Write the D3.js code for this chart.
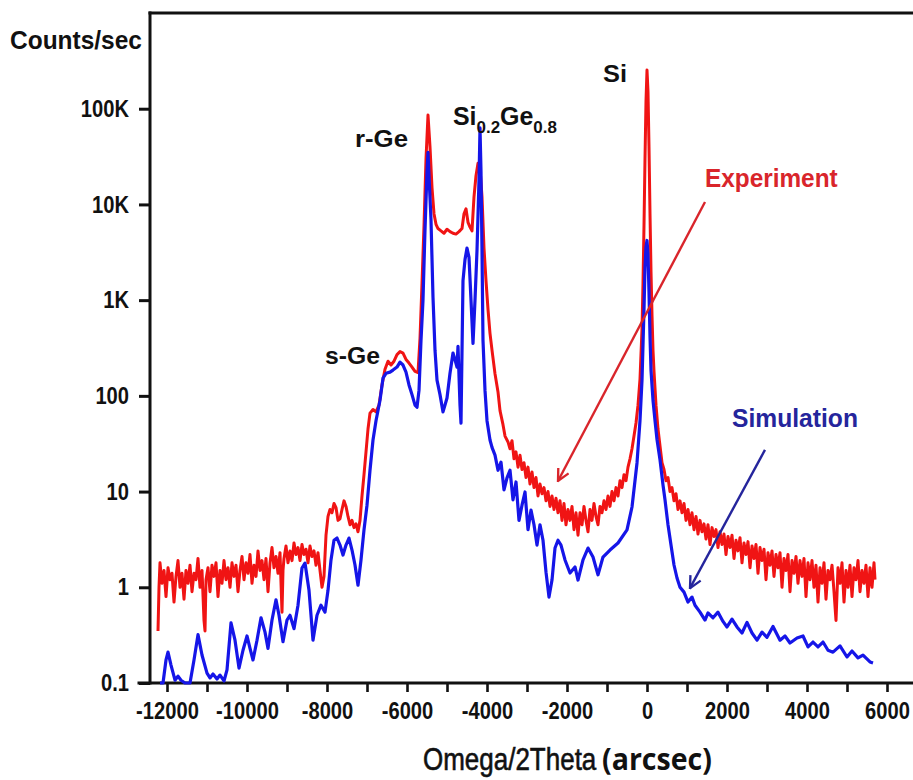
<!DOCTYPE html>
<html>
<head>
<meta charset="utf-8">
<script src="https://cdn.jsdelivr.net/npm/d3@7"></script>
<style>
  body { margin: 0; background: #fff; }
  svg { display: block; }
</style>
</head>
<body>
<svg id="chart" width="913" height="780"></svg>
<script>
// Omega/2Theta scan, counts per second: [angle (arcsec), counts]
const experiment = [
  [-12225,0.35],[-12200,1.0],[-12175,1.8],[-12125,1.1],[-12075,1.5],[-12025,0.8],[-11975,1.6],[-11925,1.2],
  [-11875,1.4],[-11825,0.7],[-11775,1.3],[-11725,1.9],[-11675,1.0],[-11625,1.4],[-11575,0.75],[-11525,1.5],
  [-11475,1.1],[-11425,1.7],[-11375,0.9],[-11325,1.4],[-11275,1.2],[-11225,2.0],[-11175,1.0],[-11125,1.5],
  [-11075,0.45],[-11050,0.35],[-11025,1.2],[-10975,1.6],[-10925,0.9],[-10875,1.7],[-10825,1.3],[-10775,1.8],
  [-10725,0.8],[-10675,1.5],[-10625,1.1],[-10575,1.9],[-10525,1.2],[-10475,1.6],[-10425,1.0],[-10375,1.8],
  [-10325,1.3],[-10275,1.7],[-10225,0.9],[-10175,1.5],[-10125,2.1],[-10075,1.2],[-10025,1.8],[-9975,1.4],
  [-9925,2.2],[-9875,1.1],[-9825,1.7],[-9775,1.3],[-9725,2.4],[-9675,1.5],[-9625,1.9],[-9575,1.2],
  [-9525,2.0],[-9475,0.9],[-9425,1.8],[-9375,2.6],[-9325,1.6],[-9275,2.1],[-9225,1.4],[-9175,2.3],
  [-9125,0.55],[-9100,1.5],[-9075,2.0],[-9025,2.7],[-8975,1.8],[-8925,2.4],[-8875,1.9],[-8825,2.9],
  [-8775,2.2],[-8725,2.6],[-8675,1.9],[-8625,2.8],[-8575,2.2],[-8525,2.5],[-8475,1.8],[-8425,2.7],
  [-8375,2.1],[-8325,2.4],[-8275,1.7],[-8225,2.3],[-8175,1.5],[-8125,1.0],[-8075,1.3],[-8025,3.5],
  [-7975,5.5],[-7925,6.5],[-7875,6.0],[-7825,7.5],[-7775,6.8],[-7725,5.0],[-7675,5.2],[-7625,6.5],
  [-7575,8.0],[-7525,7.0],[-7475,5.5],[-7425,4.5],[-7375,5.0],[-7325,4.2],[-7275,4.6],[-7225,3.8],
  [-7175,5.0],[-7125,9.0],[-7075,15],[-7025,26],[-6975,45],[-6925,66],[-6850,72],[-6775,68],
  [-6700,80],[-6625,130],[-6550,190],[-6475,230],[-6400,210],[-6325,230],[-6250,270],[-6175,290],
  [-6100,280],[-6025,240],[-5950,220],[-5875,200],[-5800,180],[-5725,175],[-5675,400],[-5625,1500],
  [-5575,6000],[-5525,30000],[-5475,86000],[-5425,40000],[-5375,15000],[-5325,8000],[-5275,6200],[-5225,5600],
  [-5150,5300],[-5075,5000],[-5000,5500],[-4925,5200],[-4850,5000],[-4775,4900],[-4700,5200],[-4625,5600],
  [-4575,8000],[-4525,9000],[-4475,6500],[-4425,5800],[-4375,5300],[-4325,12000],[-4275,20000],[-4225,27000],
  [-4175,24000],[-4125,12000],[-4075,3500],[-4025,1600],[-3975,800],[-3925,450],[-3875,300],[-3800,170],
  [-3725,110],[-3675,70],[-3600,50],[-3550,38],[-3475,33],[-3425,28],[-3375,34],[-3325,22],
  [-3275,26],[-3225,18],[-3175,24],[-3125,17],[-3075,20],[-3025,14],[-2975,18],[-2925,12],
  [-2875,16],[-2825,11],[-2775,14],[-2725,9],[-2675,12],[-2625,9.5],[-2575,11],[-2525,8],
  [-2475,10],[-2425,7],[-2375,9],[-2325,6.5],[-2275,8.5],[-2225,6],[-2175,8],[-2125,5],
  [-2075,7.5],[-2025,4.5],[-1975,6.5],[-1925,5],[-1875,7],[-1825,4],[-1775,6],[-1725,3.5],
  [-1675,6],[-1625,4.5],[-1575,7],[-1525,5],[-1475,3.8],[-1425,6.5],[-1375,5],[-1325,7.5],
  [-1275,5.5],[-1225,4.5],[-1175,7],[-1125,6],[-1075,8],[-1025,6.5],[-975,9],[-925,7],
  [-875,10],[-825,8],[-775,11],[-725,9],[-675,13],[-625,11],[-575,15],[-525,13],
  [-475,18],[-425,22],[-375,28],[-325,38],[-275,52],[-225,80],[-175,150],[-125,500],
  [-100,1500],[-75,6000],[-50,30000],[-25,120000],[0,254000],[25,150000],[50,40000],[75,8000],
  [100,2000],[125,700],[150,300],[175,180],[225,80],[275,45],[325,30],[375,20],
  [425,17],[475,13],[525,14],[575,10],[625,11],[675,8],[725,9.5],[775,6.5],
  [825,8],[875,6],[925,7.5],[975,5],[1025,6.5],[1075,4.5],[1125,6],[1175,4],
  [1225,5.5],[1275,3.6],[1325,5],[1375,3.8],[1425,4.6],[1475,3.2],[1525,4.5],[1575,2.8],
  [1625,4.2],[1675,3.4],[1725,4],[1775,2.6],[1825,3.8],[1875,2.8],[1925,3.6],[1975,2.2],
  [2025,3.4],[2075,2.6],[2125,3.5],[2175,2.0],[2225,3.1],[2275,2.4],[2325,3.3],[2375,1.8],
  [2425,2.9],[2475,2.2],[2525,3.0],[2575,1.6],[2625,2.7],[2675,2.0],[2725,2.8],[2775,1.4],
  [2825,2.6],[2875,1.9],[2925,2.5],[2975,1.2],[3025,2.3],[3075,1.7],[3125,2.4],[3175,1.3],
  [3225,2.2],[3275,1.6],[3325,2.3],[3375,1.0],[3425,2.0],[3475,1.5],[3525,2.2],[3575,0.9],
  [3625,1.9],[3675,1.4],[3725,2.1],[3775,1.1],[3825,1.9],[3875,1.3],[3925,2.0],[3975,0.8],
  [4025,1.8],[4075,1.2],[4125,1.9],[4175,1.0],[4225,1.7],[4275,0.7],[4325,1.6],[4375,1.1],
  [4425,1.8],[4475,0.75],[4525,1.5],[4575,1.2],[4625,1.7],[4675,0.9],[4725,0.45],[4775,1.6],
  [4825,1.1],[4875,1.8],[4925,0.7],[4975,1.5],[5025,1.0],[5075,1.7],[5125,0.8],[5175,1.6],
  [5225,1.2],[5275,1.9],[5325,0.9],[5375,1.5],[5425,1.1],[5475,1.7],[5525,0.8],[5575,1.6],
  [5625,1.0],[5675,1.8],[5700,1.2]
];

const simulation = [
  [-12175,0.1],[-12100,0.1],[-12025,0.174],[-11975,0.21],[-11900,0.154],[-11800,0.107],[-11725,0.118],[-11650,0.107],
  [-11550,0.1],[-11425,0.1],[-11325,0.174],[-11225,0.32],[-11125,0.196],[-11000,0.127],[-10925,0.113],[-10850,0.124],
  [-10750,0.11],[-10675,0.121],[-10575,0.105],[-10500,0.137],[-10400,0.424],[-10300,0.28],[-10200,0.143],[-10100,0.22],
  [-10000,0.31],[-9925,0.23],[-9850,0.174],[-9750,0.28],[-9650,0.48],[-9550,0.34],[-9475,0.23],[-9375,0.455],
  [-9275,0.74],[-9200,0.51],[-9100,0.27],[-9000,0.455],[-8925,0.51],[-8825,0.37],[-8725,0.65],[-8625,1.59],
  [-8550,1.79],[-8450,0.93],[-8350,0.28],[-8250,0.51],[-8150,0.65],[-8050,0.55],[-7975,0.93],[-7900,1.93],
  [-7825,3.1],[-7750,3.27],[-7675,2.76],[-7600,2.17],[-7525,2.76],[-7450,3.27],[-7375,2.45],[-7300,1.71],
  [-7225,1.05],[-7150,1.93],[-7075,3.98],[-7000,7.2],[-6925,16.7],[-6850,34.6],[-6775,55],[-6675,90],
  [-6600,153],[-6525,172],[-6425,177],[-6350,186],[-6250,200],[-6175,225],[-6100,210],[-6025,177],
  [-5950,130],[-5875,103],[-5800,80],[-5750,76],[-5700,114],[-5650,380],[-5600,1000],[-5550,5400],
  [-5500,22000],[-5475,35000],[-5450,20000],[-5400,6900],[-5350,1070],[-5300,300],[-5250,146],[-5175,103],
  [-5100,68],[-5050,80],[-5000,95],[-4925,172],[-4850,280],[-4800,238],[-4750,200],[-4725,330],
  [-4675,80],[-4650,52],[-4600,1600],[-4550,2650],[-4500,3500],[-4450,2800],[-4400,1000],[-4350,354],
  [-4300,1000],[-4250,3300],[-4200,18000],[-4175,63000],[-4150,22000],[-4125,3300],[-4100,380],[-4050,114],
  [-4000,55],[-3925,34.6],[-3875,29],[-3800,24],[-3725,16.7],[-3650,20.3],[-3575,10.4],[-3500,13.9],
  [-3425,16.7],[-3350,8.2],[-3275,12.6],[-3200,5.0],[-3125,7.2],[-3050,9.9],[-2975,4.0],[-2900,6.4],
  [-2825,4.5],[-2750,2.76],[-2675,4.5],[-2600,3.1],[-2525,1.44],[-2450,0.79],[-2375,1.19],[-2300,2.57],
  [-2225,3.1],[-2150,2.76],[-2050,1.93],[-1925,1.41],[-1800,1.63],[-1725,1.19],[-1600,1.93],[-1475,2.57],
  [-1350,2.07],[-1225,1.35],[-1100,2.07],[-925,2.45],[-725,2.9],[-500,3.98],[-375,6.9],[-250,19.9],
  [-175,55],[-125,146],[-75,800],[-50,2200],[-25,3600],[0,4200],[25,3000],[50,1200],
  [75,420],[100,185],[150,90],[200,55],[250,35],[325,21.5],[400,11.7],[450,8.2],
  [525,4.5],[600,2.76],[675,1.71],[750,1.25],[825,1.0],[925,0.89],[1025,0.7],[1125,0.79],
  [1200,0.65],[1325,0.55],[1450,0.455],[1525,0.54],[1650,0.48],[1775,0.55],[1900,0.44],[2000,0.385],
  [2125,0.465],[2250,0.385],[2375,0.333],[2500,0.43],[2625,0.333],[2750,0.28],[2875,0.34],[3000,0.30],
  [3150,0.39],[3325,0.28],[3450,0.31],[3575,0.262],[3750,0.295],[3900,0.31],[4025,0.238],[4150,0.268],
  [4275,0.238],[4400,0.268],[4525,0.22],[4650,0.21],[4825,0.244],[5000,0.187],[5125,0.216],[5275,0.183],
  [5400,0.196],[5575,0.166],[5650,0.162]
];

const yTicks = [0.1, 1, 10, 100, 1000, 10000, 100000];
const yTickLabels = ["0.1", "1", "10", "100", "1K", "10K", "100K"];
const xTicks = [-12000,-11000,-10000,-9000,-8000,-7000,-6000,-5000,-4000,-3000,-2000,-1000,0,1000,2000,3000,4000,5000,6000];
const xTickLabels = ["-12000","","-10000","","-8000","","-6000","","-4000","","-2000","","0","","2000","","4000","","6000"];

// Peak names, anchored in data space (angle, counts at text baseline)
const peakNames = [
  { text: "s-Ge", x: -8050, y: 215 },
  { text: "r-Ge", x: -7300, y: 39900 },
  { text: "Si", x: -1100, y: 190000 }
];
const alloyName = { x: -4850, y: 67700 };
const seriesNotes = [
  { text: "Experiment", x: 1450, y: 15200, series: "exp" },
  { text: "Simulation", x: 2125, y: 47.3, series: "sim" }
];
const pointers = [
  { from: [1450, 10600], to: [-2225, 12.9], series: "exp" },
  { from: [2950, 27.3], to: [1075, 0.98], series: "sim" }
];

const svg = d3.select("#chart");
const plot = { left: 150, right: 913, top: 13, bottom: 683 };
const SANS = "'Liberation Sans', Arial, Helvetica, sans-serif";
const INK = "#111";
const lineColor = { exp: "#f01414", sim: "#1515e8" };
const noteColor = { exp: "#d9252b", sim: "#25259c" };
const NARROW = 0.84;

const x = d3.scaleLinear().domain([-12425, 6650]).range([plot.left, plot.right]);
const y = d3.scaleLog().domain([0.1, 1e6]).range([plot.bottom, plot.top]);

// Text in a group squeezed to a given width
function fittedText(px, py, width, build) {
  const g = svg.append("g").attr("transform", `translate(${px},${py})`);
  const t = g.append("text");
  build(t);
  const w = t.node().getBBox().width;
  g.attr("transform", `translate(${px},${py}) scale(${width / w},1)`);
  return g;
}

// Axes
const xAxis = d3.axisBottom(x).tickValues(xTicks).tickSize(9).tickPadding(10)
  .tickFormat((d, i) => xTickLabels[i]);
const gx = svg.append("g").attr("transform", `translate(0,${plot.bottom})`).call(xAxis);
gx.select(".domain").remove();
gx.selectAll(".tick line").attr("stroke", INK).attr("stroke-width", 2.6);
gx.selectAll(".tick text").attr("font-family", SANS).attr("font-size", 24)
  .attr("font-weight", "bold").attr("fill", INK)
  .attr("transform", `scale(${NARROW},1)`);

const yAxis = d3.axisLeft(y).tickValues(yTicks).tickSize(11).tickPadding(10)
  .tickFormat((d, i) => yTickLabels[i]);
const gy = svg.append("g").attr("transform", `translate(${plot.left},0)`).call(yAxis);
gy.select(".domain").remove();
gy.selectAll(".tick line").attr("stroke", INK).attr("stroke-width", 3);
gy.selectAll(".tick text").attr("font-family", SANS).attr("font-size", 24)
  .attr("font-weight", "bold").attr("fill", INK)
  .attr("x", -21 / NARROW).attr("transform", `scale(${NARROW},1)`);

// Frame: left axis, bottom axis, top border
const frame = svg.append("g").attr("stroke", INK).attr("stroke-width", 3).attr("stroke-linecap", "square");
frame.append("line").attr("x1", plot.left).attr("y1", plot.top).attr("x2", plot.left).attr("y2", plot.bottom);
frame.append("line").attr("x1", plot.left - 11).attr("y1", plot.bottom).attr("x2", plot.right).attr("y2", plot.bottom);
frame.append("line").attr("x1", plot.left).attr("y1", plot.top).attr("x2", plot.right).attr("y2", plot.top);

// Spectra
svg.append("clipPath").attr("id", "plot-clip").append("rect")
  .attr("x", plot.left + 1).attr("y", plot.top + 2)
  .attr("width", plot.right - plot.left).attr("height", plot.bottom - plot.top + 2);

const line = d3.line().x(d => x(d[0])).y(d => y(d[1]));
const curves = svg.append("g").attr("clip-path", "url(#plot-clip)")
  .attr("fill", "none").attr("stroke-linejoin", "round");
curves.append("path").datum(experiment).attr("d", line)
  .attr("stroke", lineColor.exp).attr("stroke-width", 3);
curves.append("path").datum(simulation).attr("d", line)
  .attr("stroke", lineColor.sim).attr("stroke-width", 3.2);

// Axis titles
fittedText(10, 49, 132, t => t.text("Counts/sec")
  .attr("font-family", SANS).attr("font-size", 26).attr("font-weight", "bold").attr("fill", INK));
fittedText(423, 770, 174, t => t.text("Omega/2Theta")
  .attr("font-family", SANS).attr("font-size", 31).attr("fill", INK)
  .attr("stroke", INK).attr("stroke-width", 0.6));
fittedText(602, 770, 110, t => t.text("(arcsec)")
  .attr("font-family", "'Open Sans', sans-serif").attr("font-size", 30).attr("font-weight", 700).attr("fill", INK));

// Peak names
const nameWidth = { "s-Ge": 55, "r-Ge": 53, "Si": 24 };
peakNames.forEach(p => {
  fittedText(x(p.x), y(p.y), nameWidth[p.text], t => t.text(p.text)
    .attr("font-family", SANS).attr("font-size", 24).attr("font-weight", "bold").attr("fill", INK));
});
fittedText(x(alloyName.x), y(alloyName.y), 104, t => {
  t.attr("font-family", SANS).attr("font-weight", "bold").attr("fill", INK).attr("font-size", 25);
  t.append("tspan").text("Si");
  t.append("tspan").attr("font-size", 17).attr("dy", 8).text("0.2");
  t.append("tspan").attr("dy", -8).text("Ge");
  t.append("tspan").attr("font-size", 17).attr("dy", 8).text("0.8");
});

// Series notes with pointers
const noteWidth = { exp: 133, sim: 126 };
seriesNotes.forEach(n => {
  fittedText(x(n.x), y(n.y), noteWidth[n.series], t => t.text(n.text)
    .attr("font-family", SANS).attr("font-size", 26).attr("font-weight", "bold").attr("fill", noteColor[n.series]));
});

const defs = svg.append("defs");
["exp", "sim"].forEach(s => {
  defs.append("marker").attr("id", "head-" + s)
    .attr("viewBox", "0 0 12 12").attr("refX", 11).attr("refY", 6)
    .attr("markerWidth", 14).attr("markerHeight", 14).attr("markerUnits", "userSpaceOnUse")
    .attr("orient", "auto")
    .append("path").attr("d", "M1,1 L11,6 L1,11").attr("fill", "none")
    .attr("stroke", noteColor[s]).attr("stroke-width", 2);
});
pointers.forEach(p => {
  svg.append("line")
    .attr("x1", x(p.from[0])).attr("y1", y(p.from[1]))
    .attr("x2", x(p.to[0])).attr("y2", y(p.to[1]))
    .attr("stroke", noteColor[p.series]).attr("stroke-width", 2.4)
    .attr("marker-end", `url(#head-${p.series})`);
});
</script>
</body>
</html>
